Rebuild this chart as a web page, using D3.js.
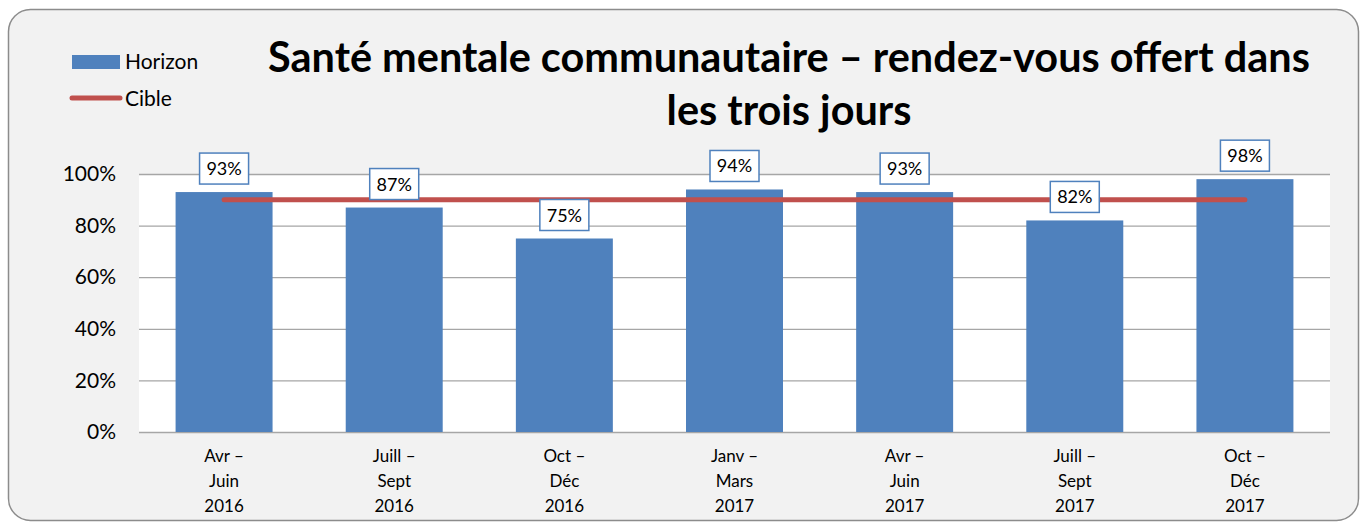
<!DOCTYPE html>
<html>
<head>
<meta charset="utf-8">
<script src="https://cdn.jsdelivr.net/npm/d3@7"></script>
<style>
  body { margin: 0; background: #ffffff; }
  svg { display: block; font-family: Lato, "Open Sans", sans-serif; }
</style>
</head>
<body>
<div id="main"></div>
<script>
// data
const periods = [
  ['Avr –', 'Juin', '2016'],
  ['Juill –', 'Sept', '2016'],
  ['Oct –', 'Déc', '2016'],
  ['Janv –', 'Mars', '2017'],
  ['Avr –', 'Juin', '2017'],
  ['Juill –', 'Sept', '2017'],
  ['Oct –', 'Déc', '2017']
];
const horizon = [0.93, 0.87, 0.75, 0.94, 0.93, 0.82, 0.98];
const cible = [0.90, 0.90, 0.90, 0.90, 0.90, 0.90, 0.90];
const yTicks = [0, 0.2, 0.4, 0.6, 0.8, 1.0];
const titleLines = ['Santé mentale communautaire – rendez-vous offert dans', 'les trois jours'];
const seriesNames = ['Horizon', 'Cible'];

const W = 1361, H = 525;
const plot = { left: 139, right: 1330, top: 174, bottom: 432 };
const blue = '#4f81bd', red = '#c0504d';

const svg = d3.select('#main').append('svg')
  .attr('width', W)
  .attr('height', H);

// outer frame
svg.append('rect')
  .attr('x', 8.5).attr('y', 9.5)
  .attr('width', 1350).attr('height', 511)
  .attr('rx', 22).attr('ry', 22)
  .attr('fill', '#f2f2f2')
  .attr('stroke', '#8c8c8c')
  .attr('stroke-width', 1.5);

const keys = periods.map((p, i) => i);

const xScale = d3.scaleBand()
  .domain(keys)
  .range([plot.left, plot.right])
  .paddingInner(0.43)
  .paddingOuter(0.215);

const yScale = d3.scaleLinear()
  .domain([0, 1])
  .range([plot.bottom, plot.top]);

// plot area
svg.append('rect')
  .attr('x', plot.left).attr('y', plot.top)
  .attr('width', plot.right - plot.left)
  .attr('height', plot.bottom - plot.top)
  .attr('fill', '#ffffff');

// grid
svg.append('g')
  .attr('class', 'grid')
  .attr('transform', `translate(${plot.left},0)`)
  .call(d3.axisLeft(yScale)
    .tickValues(yTicks)
    .tickSize(-(plot.right - plot.left))
    .tickFormat(''))
  .call(g => g.select('.domain').remove())
  .call(g => g.selectAll('line').attr('stroke', '#a6a6a6').attr('stroke-width', 1.3));

// y labels
svg.append('g')
  .attr('transform', `translate(${plot.left},0)`)
  .call(d3.axisLeft(yScale)
    .tickValues(yTicks)
    .tickSize(0)
    .tickPadding(23)
    .tickFormat(d3.format('.0%')))
  .call(g => g.select('.domain').remove())
  .call(g => g.selectAll('text')
    .attr('font-family', 'Lato, sans-serif')
    .attr('font-size', 21)
    .attr('fill', '#000'));

// bars
svg.append('g').selectAll('rect')
  .data(horizon)
  .enter()
  .append('rect')
  .attr('x', (d, i) => xScale(i))
  .attr('y', d => yScale(d))
  .attr('width', xScale.bandwidth())
  .attr('height', d => yScale(0) - yScale(d))
  .attr('fill', blue);

// target line
const line = d3.line()
  .x((d, i) => xScale(i) + xScale.bandwidth() / 2)
  .y(d => yScale(d));

svg.append('path')
  .datum(cible)
  .attr('d', line)
  .attr('fill', 'none')
  .attr('stroke', red)
  .attr('stroke-width', 5)
  .attr('stroke-linecap', 'round');

// value labels
const lab = svg.append('g').selectAll('g')
  .data(horizon)
  .enter()
  .append('g')
  .attr('transform', (d, i) => `translate(${xScale(i) + xScale.bandwidth() / 2},${yScale(d) - 8})`);

lab.append('rect')
  .attr('x', -24.5).attr('y', -31)
  .attr('width', 49).attr('height', 31)
  .attr('fill', '#fff')
  .attr('stroke', blue)
  .attr('stroke-width', 1.5);

lab.append('text')
  .attr('y', -9)
  .attr('text-anchor', 'middle')
  .attr('font-size', 18)
  .text(d => d3.format('.0%')(d));

// x labels
const xl = svg.append('g').selectAll('text')
  .data(periods)
  .enter()
  .append('text')
  .attr('text-anchor', 'middle')
  .attr('font-size', 17)
  .attr('x', (d, i) => xScale(i) + xScale.bandwidth() / 2);

xl.selectAll('tspan')
  .data(d => d)
  .enter()
  .append('tspan')
  .attr('x', function () { return d3.select(this.parentNode).attr('x'); })
  .attr('y', (d, j) => 462 + j * 25)
  .text(d => d);

// title
const title = svg.append('text')
  .attr('text-anchor', 'middle')
  .attr('font-weight', 'bold')
  .attr('font-size', 36);

title.selectAll('tspan')
  .data(titleLines)
  .enter()
  .append('tspan')
  .attr('x', 789)
  .attr('y', (d, i) => 72 + i * 53)
  .text(d => d);

// fit title width to the reference line width
const w0 = title.select('tspan').node().getComputedTextLength();
title.attr('font-size', 36 * 1042 / w0);

// legend
const leg = svg.append('g');
leg.append('rect')
  .attr('x', 72).attr('y', 55)
  .attr('width', 48).attr('height', 14)
  .attr('fill', blue);
leg.append('line')
  .attr('x1', 72).attr('x2', 120)
  .attr('y1', 98).attr('y2', 98)
  .attr('stroke', red)
  .attr('stroke-width', 5)
  .attr('stroke-linecap', 'round');
leg.selectAll('text')
  .data(seriesNames)
  .enter()
  .append('text')
  .attr('x', 125)
  .attr('y', (d, i) => 69 + i * 37)
  .attr('font-size', 21)
  .text(d => d);
</script>
</body>
</html>
